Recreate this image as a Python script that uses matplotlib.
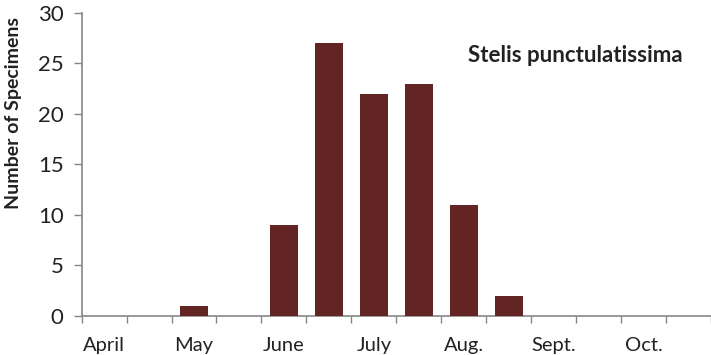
import matplotlib
matplotlib.use("Agg")
import matplotlib.pyplot as plt
import numpy as np

plt.rcParams['font.family'] = ['Lato', 'DejaVu Sans']

slots = ["April", "", "May", "", "June", "", "July", "", "Aug.", "", "Sept.", "", "Oct.", ""]
counts = [0, 0, 1, 0, 9, 27, 22, 23, 11, 2, 0, 0, 0, 0]
yticks = [0, 5, 10, 15, 20, 25, 30]
title = "Stelis punctulatissima"
ylabel = "Number of Specimens"

fig = plt.figure(figsize=(7.11, 3.55), dpi=100)
ax = fig.add_axes([0.1148, 0.1099, 0.8852, 0.8535])

x = np.arange(len(slots))
ax.bar(x, counts, width=0.62, color="#632523", zorder=3)

ax.set_xlim(-0.5, len(slots) - 0.5)
ax.set_ylim(0, 30)
ax.set_yticks(yticks)
ax.tick_params(axis='y', direction='out', length=6, width=1, color='#868686', labelsize=16, pad=7, labelcolor='#222222')

ax.set_xticks(x)
ax.set_xticklabels(slots)
ax.tick_params(axis='x', length=0, labelsize=14.5, pad=15, labelcolor='#222222')
ax.set_xticks(np.arange(len(slots) + 1) - 0.5, minor=True)
ax.tick_params(axis='x', which='minor', direction='out', length=5, width=1, color='#868686')

for s in ['top', 'right']:
    ax.spines[s].set_visible(False)
for s in ['left', 'bottom']:
    ax.spines[s].set_color('#868686')
    ax.spines[s].set_linewidth(1.2)

fig.text(14 / 711, 1 - 113 / 355, ylabel, rotation=90, fontsize=14, fontweight='bold',
         color='#222222', ha='center', va='center')
ax.text(0.614, 0.861, title, transform=ax.transAxes, fontsize=16, fontweight='bold', color='#222222', ha='left', va='center')

fig.savefig("out.png", dpi=100)
